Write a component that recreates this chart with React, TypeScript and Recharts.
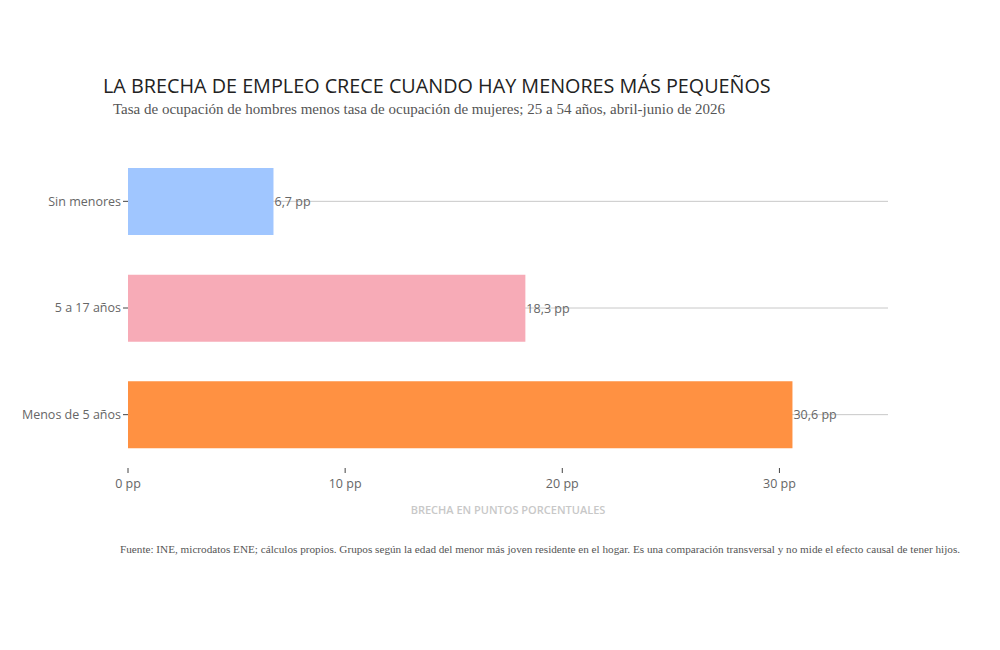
import React from 'react';
import { BarChart, Bar, XAxis, YAxis, CartesianGrid, Cell, LabelList } from 'recharts';

const categories = ['Sin menores', '5 a 17 años', 'Menos de 5 años'];
const gapValues = [6.7, 18.3, 30.6];
const barColors = ['#a0c6ff', '#f7abb7', '#ff9142'];
const xTicks = [0, 10, 20, 30];

const data = categories.map((c, i) => ({ name: c, value: gapValues[i] }));

const fmt = (v: number) => `${String(v).replace('.', ',')} pp`;

const sans = '"Open Sans", "Noto Sans", sans-serif';
const serif = '"Liberation Serif", "DejaVu Serif", serif';

export default function App() {
  return (
    <div style={{ position: 'absolute', left: 0, top: 0, width: 1000, height: 650, background: '#fff' }}>
      <div style={{ position: 'absolute', left: 103, top: 72, fontFamily: sans, fontSize: 19.8, color: '#222', whiteSpace: 'nowrap' }}>
        LA BRECHA DE EMPLEO CRECE CUANDO HAY MENORES MÁS PEQUEÑOS
      </div>
      <div style={{ position: 'absolute', left: 113, top: 101, fontFamily: serif, fontSize: 15, color: '#555', whiteSpace: 'nowrap' }}>
        Tasa de ocupación de hombres menos tasa de ocupación de mujeres; 25 a 54 años, abril-junio de 2026
      </div>
      <BarChart
        width={1000}
        height={650}
        data={data}
        layout="vertical"
        margin={{ top: 148, right: 112, bottom: 152, left: 0 }}
        barCategoryGap={20}
      >
        <CartesianGrid horizontal={true} vertical={false} stroke="#c8c8c8" syncWithTicks={true} />
        <XAxis
          type="number"
          domain={[0, 35]}
          ticks={xTicks}
          tickFormatter={(v: number) => `${v} pp`}
          axisLine={false}
          tickLine={{ stroke: '#444' }}
          tickSize={5}
          tickMargin={6}
          tick={{ fill: '#666', fontSize: 12.5, fontFamily: sans }}
          height={30}
        />
        <YAxis
          type="category"
          dataKey="name"
          width={128}
          axisLine={false}
          tickLine={{ stroke: '#444' }}
          tickSize={5}
          tick={{ fill: '#666', fontSize: 12.5, fontFamily: sans }}
        />
        <Bar dataKey="value" isAnimationActive={false}>
          {data.map((d, i) => (
            <Cell key={d.name} fill={barColors[i]} />
          ))}
          <LabelList
            dataKey="value"
            position="right"
            offset={1}
            formatter={(v: number) => fmt(v)}
            style={{ fill: '#666', fontSize: 12.5, fontFamily: sans }}
          />
        </Bar>
      </BarChart>
      <div style={{ position: 'absolute', left: 0, width: 1016, top: 502, textAlign: 'center', fontFamily: sans, fontSize: 11, fontWeight: 600, color: '#c8c8c8' }}>
        BRECHA EN PUNTOS PORCENTUALES
      </div>
      <div style={{ position: 'absolute', left: 120, top: 543, fontFamily: serif, fontSize: 11.2, color: '#555', whiteSpace: 'nowrap' }}>
        Fuente: INE, microdatos ENE; cálculos propios. Grupos según la edad del menor más joven residente en el hogar. Es una comparación transversal y no mide el efecto causal de tener hijos.
      </div>
    </div>
  );
}
